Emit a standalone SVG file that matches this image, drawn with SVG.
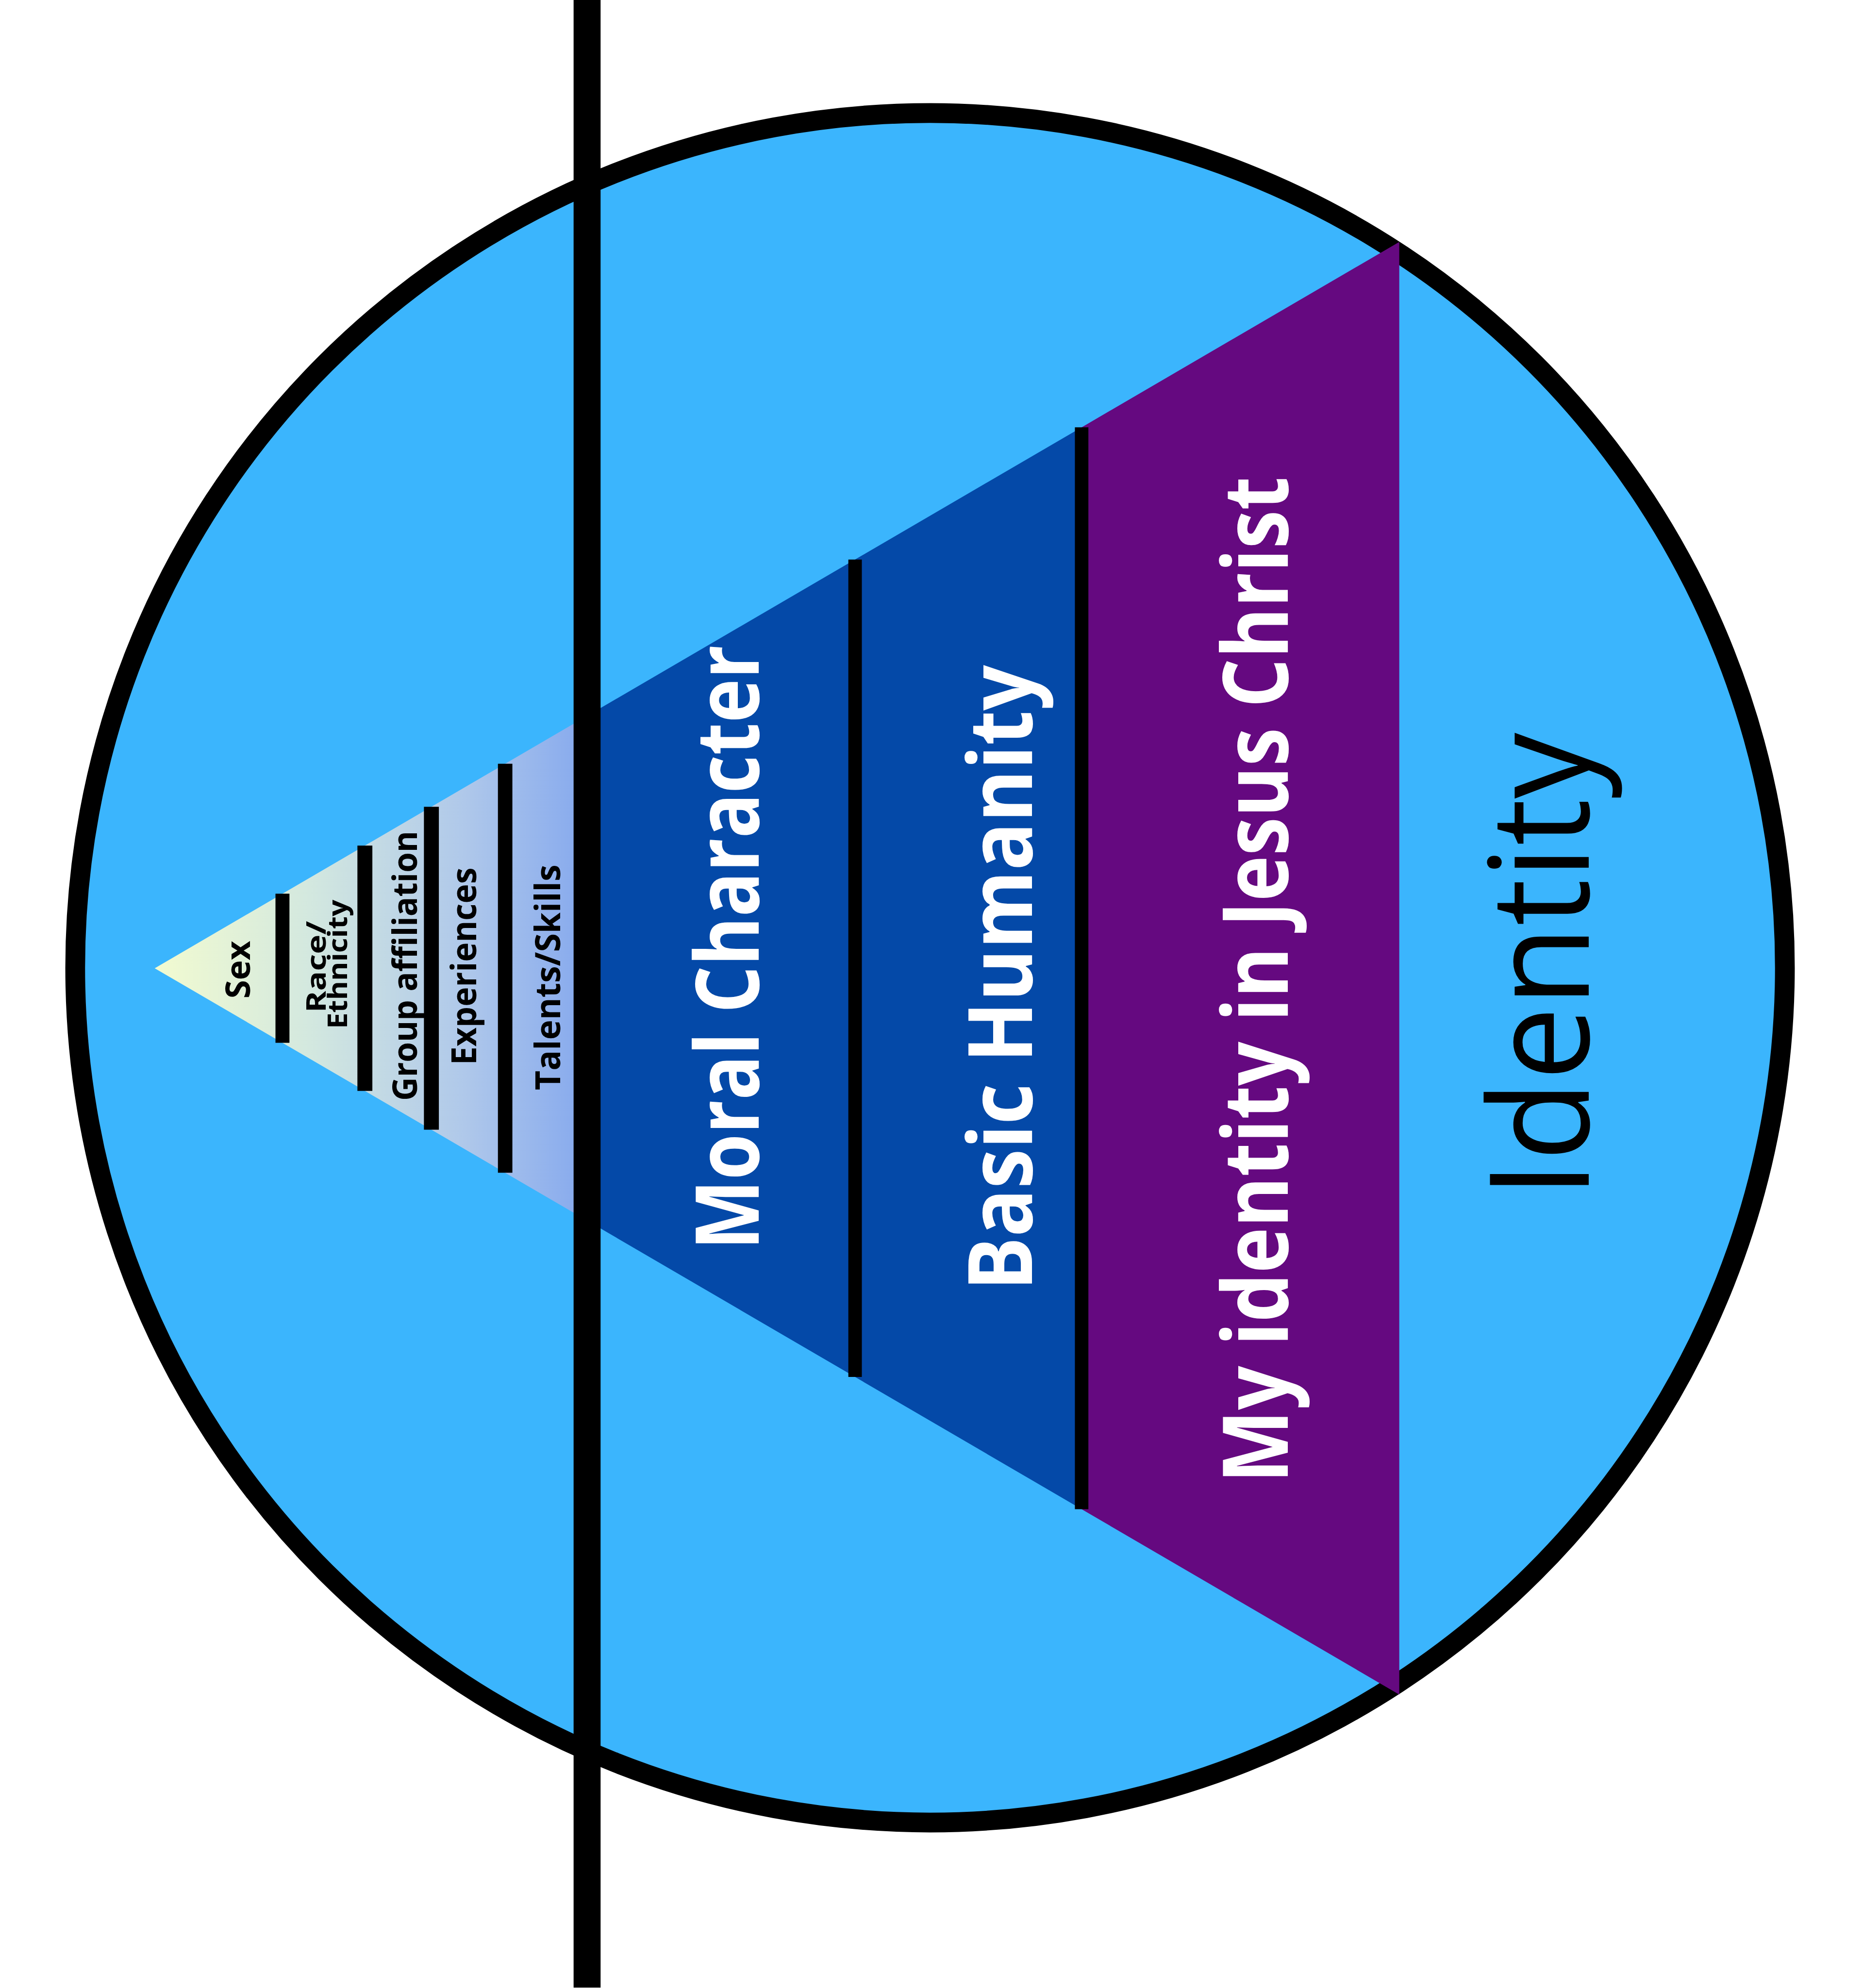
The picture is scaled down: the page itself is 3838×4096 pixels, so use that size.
<svg xmlns="http://www.w3.org/2000/svg" width="3838" height="4096" viewBox="0 0 3838 4096">
<defs>
<linearGradient id="gradSmall" x1="321" y1="0" x2="1240" y2="0" gradientUnits="userSpaceOnUse">
<stop offset="0" stop-color="#F2FBD0"/>
<stop offset="0.35" stop-color="#D3E8DF"/>
<stop offset="0.7" stop-color="#AFC8EA"/>
<stop offset="1" stop-color="#82A6EE"/>
</linearGradient>
<style>
.bar{fill:#000}
.lbl{font-family:"Open Sans","Noto Sans","DejaVu Sans",sans-serif;text-anchor:middle}
.small{font-weight:700;fill:#000}
.big{font-weight:700;fill:#fff}
.title{font-weight:400;fill:#000}
</style>
</defs>
<rect width="3838" height="4096" fill="#fff"/>
<g transform="scale(0.993)">
<g id="circle">
<circle cx="1929.5" cy="2008" r="1773.5" fill="#3BB5FD" stroke="#000" stroke-width="41"/>
</g>
<g id="triangle">
<polygon id="band-minor" points="321,2009 1240,1472.6 1240,2545.4" fill="url(#gradSmall)"/>
<polygon id="band-blue" points="1240,1472.6 2244,886.6 2244,3131.4 1240,2545.4" fill="#0449A8"/>
<polygon id="band-purple" points="2244,886.6 2903,502 2903,3516 2244,3131.4" fill="#650980"/>
</g>
<g id="connectors">
<rect class="bar" x="571.5" y="1854.3" width="29" height="309.4"/>
<rect class="bar" x="741.5" y="1754.5" width="31" height="509"/>
<rect class="bar" x="879.5" y="1674" width="31" height="670"/>
<rect class="bar" x="1033" y="1584.7" width="30" height="848.6"/>
<rect class="bar" x="1760" y="1161" width="28" height="1696"/>
<rect class="bar" x="2230" y="886.6" width="28" height="2244.8"/>
</g>
<g id="node-sex"><text class="lbl small" font-size="70" textLength="120" lengthAdjust="spacingAndGlyphs" transform="translate(519,2012) rotate(-90)">Sex</text></g>
<g id="node-race">
<text class="lbl small" font-size="55" textLength="190" lengthAdjust="spacingAndGlyphs" transform="translate(676,2006) rotate(-90)">Race/</text>
<text class="lbl small" font-size="55" textLength="268" lengthAdjust="spacingAndGlyphs" transform="translate(720,2001) rotate(-90)">Ethnicity</text>
</g>
<g id="node-group"><text class="lbl small" font-size="70" textLength="560" lengthAdjust="spacingAndGlyphs" transform="translate(865,2004) rotate(-90)">Group affiliation</text></g>
<g id="node-experiences"><text class="lbl small" font-size="72" textLength="410" lengthAdjust="spacingAndGlyphs" transform="translate(988,2005) rotate(-90)">Experiences</text></g>
<g id="node-talents"><text class="lbl small" font-size="72" textLength="468" lengthAdjust="spacingAndGlyphs" transform="translate(1162,2028) rotate(-90)">Talents/Skills</text></g>
<g id="node-moral"><text class="lbl big" font-size="182" textLength="1255" lengthAdjust="spacingAndGlyphs" transform="translate(1574,1966) rotate(-90)">Moral Character</text></g>
<g id="node-humanity"><text class="lbl big" font-size="184" textLength="1298" lengthAdjust="spacingAndGlyphs" transform="translate(2141,2029) rotate(-90)">Basic Humanity</text></g>
<g id="node-christ"><text class="lbl big" font-size="188" textLength="2088" lengthAdjust="spacingAndGlyphs" transform="translate(2672,2033) rotate(-90)">My identity in Jesus Christ</text></g>
<g id="node-identity"><text class="lbl title" font-size="287" textLength="965" lengthAdjust="spacingAndGlyphs" transform="translate(3296,2003) rotate(-90)">Identity</text></g>
<g id="cross-line">
<rect x="1190" y="0" width="56" height="4124" fill="#000"/>
</g>
</g>
</svg>
